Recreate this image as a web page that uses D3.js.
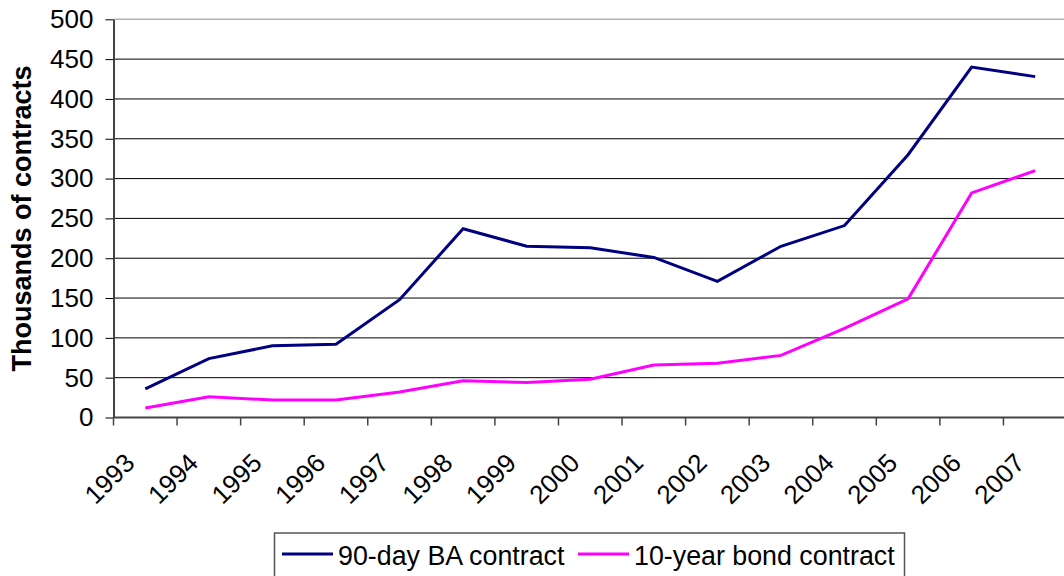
<!DOCTYPE html>
<html>
<head>
<meta charset="utf-8">
<script src="https://cdn.jsdelivr.net/npm/d3@7"></script>
<style>
  body { margin: 0; background: #fff; }
  svg { display: block; font-family: "Liberation Sans", Arial, sans-serif; }
</style>
</head>
<body>
<div id="chart"></div>
<script>
// Data (thousands of contracts)
const years = ['1993', '1994', '1995', '1996', '1997', '1998', '1999', '2000',
               '2001', '2002', '2003', '2004', '2005', '2006', '2007'];
const baContract = [36, 74, 90, 92, 148, 237, 215, 213, 201, 171, 215, 241, 330, 440, 428];
const bondContract = [12, 26, 22, 22, 32, 46, 44, 48, 66, 68, 78, 112, 149, 282, 310];
const yTicks = [0, 50, 100, 150, 200, 250, 300, 350, 400, 450, 500];

const seriesNames = ['90-day BA contract', '10-year bond contract'];
const seriesColors = ['#000080', '#ff00ff'];

const width = 1064;
const height = 576;
const margin = { top: 19.3, right: -3, bottom: 158.5, left: 113.5 };

const svg = d3.select('#chart').append('svg')
    .attr('width', width)
    .attr('height', height);

const x = d3.scaleBand()
    .domain(years)
    .range([margin.left, width - margin.right]);

const y = d3.scaleLinear()
    .domain([0, 500])
    .range([height - margin.bottom, margin.top]);

// horizontal gridlines
svg.append('g')
    .selectAll('line')
    .data(yTicks.filter(d => d > 0))
    .enter().append('line')
    .attr('x1', margin.left)
    .attr('x2', width)
    .attr('y1', d => y(d))
    .attr('y2', d => y(d))
    .attr('stroke', d => d === 500 ? '#b4b4b4' : '#000')
    .attr('stroke-width', d => d === 500 ? 1.5 : 1);

// y axis
const yAxis = svg.append('g')
    .attr('transform', `translate(${margin.left},0)`)
    .call(d3.axisLeft(y).tickValues(yTicks).tickSize(8).tickPadding(12).tickSizeOuter(0));
yAxis.select('.domain').attr('stroke', '#444').attr('stroke-width', 2);
yAxis.selectAll('.tick line').attr('stroke', '#000');
yAxis.selectAll('.tick text')
    .attr('font-size', 26)
    .attr('font-family', '"Liberation Sans", Arial, sans-serif')
    .attr('fill', '#000');

// x axis: ticks on band edges, labels rotated
const xAxisG = svg.append('g');
xAxisG.append('line')
    .attr('x1', margin.left)
    .attr('x2', width)
    .attr('y1', y(0))
    .attr('y2', y(0))
    .attr('stroke', '#444')
    .attr('stroke-width', 2);
xAxisG.selectAll('.xtick')
    .data(years)
    .enter().append('line')
    .attr('class', 'xtick')
    .attr('x1', d => x(d))
    .attr('x2', d => x(d))
    .attr('y1', y(0))
    .attr('y2', y(0) + 8)
    .attr('stroke', '#444')
    .attr('stroke-width', 1.5);
xAxisG.selectAll('.xlabel')
    .data(years)
    .enter().append('text')
    .attr('class', 'xlabel')
    .attr('text-anchor', 'end')
    .attr('font-size', 26)
    .attr('transform', d => {
        const lx = x(d) + x.bandwidth() / 2 - 9;
        const ly = y(0) + 47;
        return `translate(${lx},${ly}) rotate(-45)`;
    })
    .text(d => d);

// y axis title
svg.append('text')
    .attr('transform', `translate(30.5,${(margin.top + height - margin.bottom) / 2}) rotate(-90)`)
    .attr('text-anchor', 'middle')
    .attr('font-size', 27)
    .attr('font-weight', 'bold')
    .text('Thousands of contracts');

// lines
const line = d3.line()
    .x((d, i) => x(years[i]) + x.bandwidth() / 2)
    .y(d => y(d));

[baContract, bondContract].forEach((values, i) => {
    svg.append('path')
        .datum(values)
        .attr('fill', 'none')
        .attr('stroke', seriesColors[i])
        .attr('stroke-width', 3)
        .attr('stroke-linejoin', 'miter')
        .attr('d', line);
});

// legend
const legend = svg.append('g');
legend.append('rect')
    .attr('x', 274.5)
    .attr('y', 533)
    .attr('width', 630)
    .attr('height', 60)
    .attr('fill', '#fff')
    .attr('stroke', '#555')
    .attr('stroke-width', 1.5);

const legendX = [282, 578];
seriesNames.forEach((name, i) => {
    legend.append('line')
        .attr('x1', legendX[i])
        .attr('x2', legendX[i] + 51)
        .attr('y1', 554)
        .attr('y2', 554)
        .attr('stroke', seriesColors[i])
        .attr('stroke-width', 3);
    legend.append('text')
        .attr('x', legendX[i] + 56)
        .attr('y', 564.5)
        .attr('font-size', 26.8)
        .text(name);
});
</script>
</body>
</html>
